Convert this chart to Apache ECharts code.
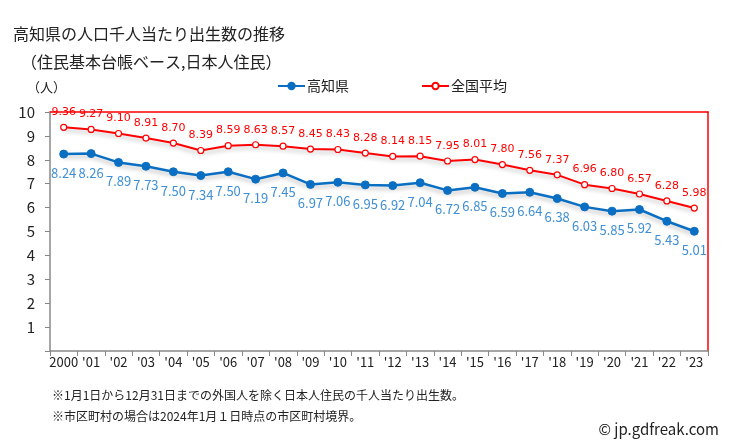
<!DOCTYPE html>
<html>
<head>
<meta charset="utf-8">
<script src="https://cdn.jsdelivr.net/npm/echarts@6/dist/echarts.min.js"></script>
<style>
html,body{margin:0;padding:0;background:#fff;}
#chart{width:729px;height:445px;}
</style>
</head>
<body>
<div id="chart"></div>
<script>
var categories = ["2000","'01","'02","'03","'04","'05","'06","'07","'08","'09","'10","'11","'12","'13","'14","'15","'16","'17","'18","'19","'20","'21","'22","'23"];
var kochi = [8.24, 8.26, 7.89, 7.73, 7.50, 7.34, 7.50, 7.19, 7.45, 6.97, 7.06, 6.95, 6.92, 7.04, 6.72, 6.85, 6.59, 6.64, 6.38, 6.03, 5.85, 5.92, 5.43, 5.01];
var national = [9.36, 9.27, 9.10, 8.91, 8.70, 8.39, 8.59, 8.63, 8.57, 8.45, 8.43, 8.28, 8.14, 8.15, 7.95, 8.01, 7.80, 7.56, 7.37, 6.96, 6.80, 6.57, 6.28, 5.98];
var yTicks = [0,1,2,3,4,5,6,7,8,9,10];

var FONT = '"Noto Sans CJK JP", "Noto Sans", sans-serif';
var chart = echarts.init(document.getElementById('chart'), null, {renderer:'canvas'});
chart.setOption({
  animation: false,
  textStyle: {fontFamily: FONT},
  title: [
    {text: '高知県の人口千人当たり出生数の推移', left: 8, top: 21, textStyle: {fontSize: 16, fontWeight: 'normal', color: '#222', fontFamily: FONT}},
    {text: '（住民基本台帳ベース,日本人住民）', left: 16, top: 49, textStyle: {fontSize: 16, fontWeight: 'normal', color: '#222', fontFamily: FONT}},
    {text: '（人）', left: 22, top: 76, textStyle: {fontSize: 13, fontWeight: 'normal', color: '#222', fontFamily: FONT}}
  ],
  legend: {
    top: 74, left: 272, itemGap: 72, itemWidth: 27, itemHeight: 8,
    textStyle: {fontSize: 14, color: '#222', fontFamily: FONT, padding: [0,0,0,-3]},
    data: [{name: '高知県'}, {name: '全国平均'}]
  },
  grid: {left: 50, right: 21, top: 112, bottom: 94, containLabel: false},
  xAxis: [{
    type: 'category', data: categories, boundaryGap: true,
    axisLine: {lineStyle: {color: '#888', width: 1.5}},
    axisTick: {show: true, alignWithLabel: false, length: 5, lineStyle: {color: '#888'}},
    axisLabel: {color: '#222', fontSize: 13, margin: 5, interval: 0, fontFamily: FONT}
  }, {
    type: 'category', data: categories, position: 'top',
    axisLine: {show: true, onZero: false, lineStyle: {color: '#ff0000', width: 1.5}},
    axisTick: {show: false}, axisLabel: {show: false}
  }],
  yAxis: [{
    type: 'value', min: 0, max: 10, interval: 1,
    axisLine: {show: true, lineStyle: {color: '#888', width: 1.5}},
    axisTick: {show: true, length: 5, lineStyle: {color: '#888'}},
    splitLine: {show: false},
    axisLabel: {color: '#222', fontSize: 15, margin: 15, fontFamily: FONT,
      formatter: function(v){ return yTicks.indexOf(v) > 0 ? String(v) : ''; }}
  }, {
    type: 'value', min: 0, max: 10, interval: 1, position: 'right',
    axisLine: {show: true, onZero: false, lineStyle: {color: '#ff0000', width: 1.5}},
    axisTick: {show: false}, axisLabel: {show: false}, splitLine: {show: false}
  }],
  series: [{
    name: '高知県', type: 'line', data: kochi, z: 3,
    symbol: 'circle', symbolSize: 8,
    itemStyle: {color: '#0a6fc2', borderColor: '#0a6fc2', borderWidth: 1},
    lineStyle: {color: '#0a6fc2', width: 2.5, shadowColor: 'rgba(0,0,0,0.25)', shadowBlur: 4, shadowOffsetY: 3},
    label: {show: true, position: 'bottom', distance: 8, color: '#3f8fd6', fontSize: 13, fontFamily: FONT,
      formatter: function(p){ return p.value.toFixed(2); }}
  }, {
    name: '全国平均', type: 'line', data: national, z: 3,
    symbol: 'circle', symbolSize: 6,
    itemStyle: {color: '#fff', borderColor: '#ff0000', borderWidth: 1.2},
    lineStyle: {color: '#ff0000', width: 2, shadowColor: 'rgba(0,0,0,0.25)', shadowBlur: 4, shadowOffsetY: 3},
    label: {show: true, position: 'top', distance: 6, color: '#ff0000', fontSize: 11, fontFamily: '"DejaVu Sans", sans-serif',
      formatter: function(p){ return p.value.toFixed(2); }}
  }],
  graphic: [
    {type: 'text', left: 52, top: 389, style: {text: '※1月1日から12月31日までの外国人を除く日本人住民の千人当たり出生数。', fill: '#222', font: '12px ' + FONT}},
    {type: 'text', left: 52, top: 410, style: {text: '※市区町村の場合は2024年1月１日時点の市区町村境界。', fill: '#222', font: '12px ' + FONT}},
    {type: 'text', right: 10, top: 422, style: {text: '© jp.gdfreak.com', fill: '#222', font: '15px ' + FONT}}
  ]
});
</script>
</body>
</html>
